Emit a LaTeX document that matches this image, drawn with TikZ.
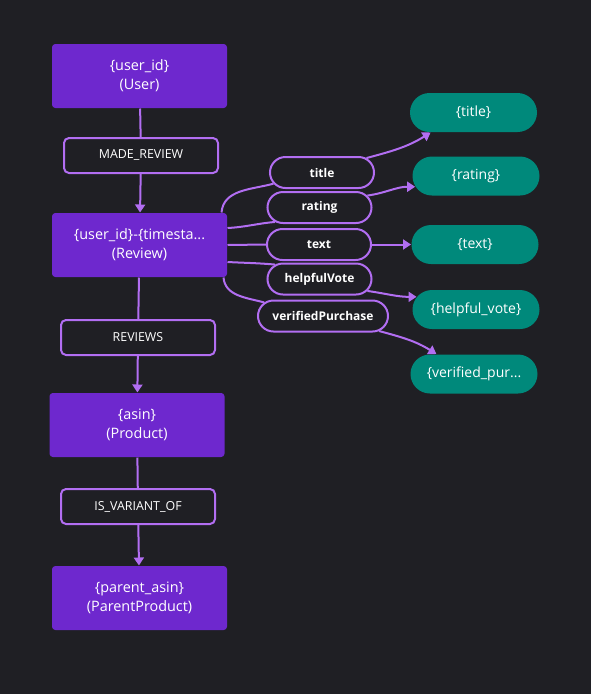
\documentclass[tikz,border=0pt]{standalone}
\usepackage{fontspec}
\setmainfont{Open Sans}
\usetikzlibrary{arrows.meta,shapes.misc}
\definecolor{bgdark}{RGB}{31,31,36}
\definecolor{entfill}{RGB}{110,40,206}
\definecolor{valfill}{RGB}{0,137,123}
\definecolor{edgepurple}{RGB}{178,110,242}
\tikzset{every picture/.style={line width=0.75pt}}
\tikzset{
  entity/.style={fill=entfill, rounded corners=2.5pt, minimum width=131.25pt, minimum height=48pt, inner sep=0pt, align=center, text=white, font=\fontsize{10.8}{14.2}\selectfont},
  relbox/.style={draw=edgepurple, line width=1.5pt, fill=bgdark, rounded corners=3.75pt, minimum width=115.5pt, minimum height=26.25pt, inner sep=0pt, text=white, font=\fontsize{9.3}{10}\selectfont},
  propbox/.style={rounded rectangle, draw=edgepurple, line width=1.5pt, fill=bgdark, minimum width=78pt, minimum height=23.25pt, inner sep=0pt, text=white, font=\fontsize{9}{10}\selectfont\bfseries},
  valbox/.style={rounded rectangle, fill=valfill, minimum width=95.25pt, minimum height=29.25pt, inner sep=0pt, text=white, font=\fontsize{10.5}{12}\selectfont},
  link/.style={draw=edgepurple, line width=1.5pt},
  arr/.style={link, -{Triangle[length=6pt,width=7.5pt]}}
}

\begin{document}
\begin{tikzpicture}[x=0.75pt,y=0.75pt,yscale=-1,xscale=1]
%set diagram background, 591 x 694
\fill[bgdark] (0,0) rectangle (591,694);
\useasboundingbox (0,0) rectangle (591,694);

% Entity Nodes
\node[entity] (usr) at (139.5,76) {\{user\_id\}\\(User)};
\node[entity] (rev) at (139.5,245) {\{user\_id\}-\{timesta...\\(Review)};
\node[entity] (prd) at (137,425) {\{asin\}\\(Product)};
\node[entity] (ppr) at (139.5,598) {\{parent\_asin\}\\(ParentProduct)};

% Relation Labels
\node[relbox] (mr) at (141,155.5) {MADE\_REVIEW};
\node[relbox] (rv) at (138,337.5) {REVIEWS};
\node[relbox] (iv) at (138,506.5) {IS\_VARIANT\_OF};

% Property Labels
\node[propbox] (ttl) at (322,172.5) {title};
\node[propbox] (rat) at (319.5,207.5) {rating};
\node[propbox] (txt) at (319,244.5) {text};
\node[propbox] (hv) at (319.5,279) {helpfulVote};
\node[propbox, minimum width=97.5pt] (vp) at (323,316) {verifiedPurchase};

% Value Nodes
\node[valbox] (vttl) at (473.5,112.5) {\{title\}};
\node[valbox] (vrat) at (476,176) {\{rating\}};
\node[valbox] (vtxt) at (475,244.5) {\{text\}};
\node[valbox] (vhv) at (476,309.5) {\{helpful\_vote\}};
\node[valbox] (vvp) at (474,374) {\{verified\_pur...};

%Straight Lines
\draw[link] (usr) -- (mr);
\draw[arr] (mr) -- (rev);
\draw[link] (rev) -- (rv);
\draw[arr] (rv) -- (prd);
\draw[link] (prd) -- (iv);
\draw[arr] (iv) -- (ppr);

%Curved Lines (angles and yshift flipped by yscale=-1)
\draw[link] ([xshift=-4.5pt]rev.north east) to[out=-85,in=165] (ttl.193);
\draw[arr] (ttl.18) to[out=-15,in=148] (vttl.205);
\draw[link] ([yshift=-12.75pt]rev.east) to[out=-3,in=175] (rat.198);
\draw[arr] (rat.14) to[out=-8,in=180] (vrat.190);
\draw[link] (rev.east) -- (txt.west);
\draw[arr] (txt.east) -- (vtxt.west);
\draw[link] ([yshift=12.75pt]rev.east) to[out=3,in=185] (hv.162);
\draw[arr] (hv.346) to[out=8,in=180] (vhv.168);
\draw[link] ([xshift=-3pt]rev.south east) to[out=85,in=195] (vp.167);
\draw[arr] (vp.345) to[out=15,in=212] (vvp.152);

\end{tikzpicture}
\end{document}
